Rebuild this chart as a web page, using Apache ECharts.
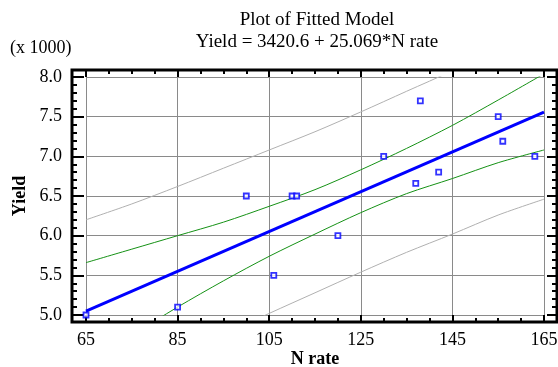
<!DOCTYPE html>
<html>
<head>
<meta charset="utf-8">
<script src="https://cdn.jsdelivr.net/npm/echarts@6/dist/echarts.min.js"></script>
<style>
  html, body { margin: 0; padding: 0; background: #fff; }
  #chart { width: 558px; height: 367px; }
</style>
</head>
<body>
<div id="chart"></div>
<script>
// observed points
var nRate = [65, 85, 100, 106, 110, 111, 120, 130, 137, 138, 142, 155, 156, 163];
var yieldObs = [5000, 5100, 6500, 5500, 6500, 6500, 6000, 7000, 6660, 7700, 6800, 7500, 7190, 7000];

// fitted line ends (Yield = 3420.6 + 25.069*N rate)
var fitN = [65, 165];
var fitY = [5050, 7557];

// bands
var bandN = [65, 75, 85, 95, 105, 115, 125, 135, 145, 155, 165];
var confUpper = [5660, 5830, 6000, 6170, 6370, 6580, 6830, 7100, 7390, 7710, 8040];
var confLower = [4440, 4750, 5100, 5430, 5740, 6020, 6290, 6530, 6720, 6920, 7080];
var predUpper = [6200, 6400, 6620, 6850, 7080, 7310, 7560, 7820, 8080, 8380, 8660];
var predLower = [3900, 4200, 4480, 4750, 5020, 5280, 5540, 5790, 6020, 6260, 6460];

function pairs(xs, ys) {
    var out = [];
    for (var i = 0; i < xs.length; i++) out.push([xs[i], ys[i]]);
    return out;
}

var serif = '"Liberation Serif", "Times New Roman", serif';
var gridColor = '#8a8a8a';

var chart = echarts.init(document.getElementById('chart'));

function tickAxis(extra) {
    var base = {
        gridIndex: 0,
        axisLine: { show: false, onZero: false },
        axisTick: { show: true, inside: true, length: 7, lineStyle: { color: '#000', width: 2 } },
        minorTick: { show: true, length: 4, lineStyle: { color: '#000', width: 2 } },
        axisLabel: { show: false },
        splitLine: { show: false }
    };
    return Object.assign(base, extra);
}

var option = {
    backgroundColor: '#fff',
    animation: false,
    title: [
        {
            text: 'Plot of Fitted Model',
            left: 317, top: 11, padding: 0, textAlign: 'center',
            textStyle: { fontFamily: serif, fontSize: 19, fontWeight: 'normal', color: '#000' }
        },
        {
            text: 'Yield = 3420.6 + 25.069*N rate',
            left: 317, top: 33, padding: 0, textAlign: 'center',
            textStyle: { fontFamily: serif, fontSize: 19, fontWeight: 'normal', color: '#000' }
        }
    ],
    graphic: [
        {
            type: 'text', left: 10, top: 39,
            style: { text: '(x 1000)', font: '18px ' + serif, fill: '#000' }
        }
    ],
    grid: [
        { left: 86, top: 77, width: 458, height: 238, outerBoundsMode: 'none', containLabel: false },
        {
            left: 72, top: 70, width: 485, height: 252, outerBoundsMode: 'none', containLabel: false,
            show: true, borderColor: '#000', borderWidth: 3, backgroundColor: 'transparent'
        }
    ],
    xAxis: [
        tickAxis({
            type: 'value', position: 'bottom', min: 65, max: 165, interval: 20, offset: 7,
            minorTick: { show: true, splitNumber: 4, length: 4, lineStyle: { color: '#000', width: 2 } },
            axisLabel: { show: true, fontFamily: serif, fontSize: 18, color: '#000', margin: 9 },
            splitLine: { show: true, lineStyle: { color: gridColor, width: 1 } },
            name: 'N rate', nameLocation: 'middle', nameGap: 28, nameMoveOverlap: false,
            nameTextStyle: { fontFamily: serif, fontSize: 18, fontWeight: 'bold', color: '#000' }
        }),
        tickAxis({
            type: 'value', position: 'top', min: 65, max: 165, interval: 20, offset: 7,
            minorTick: { show: true, splitNumber: 4, length: 4, lineStyle: { color: '#000', width: 2 } }
        }),
        { type: 'value', gridIndex: 1, min: 0, max: 1, show: false }
    ],
    yAxis: [
        tickAxis({
            type: 'value', position: 'left', min: 5000, max: 8000, interval: 500, offset: 14,
            axisTick: { show: true, inside: true, length: 12, lineStyle: { color: '#000', width: 2 } },
            minorTick: { show: true, splitNumber: 5, length: 5, lineStyle: { color: '#000', width: 2 } },
            axisLabel: {
                show: true, fontFamily: serif, fontSize: 18, color: '#000', margin: 10,
                formatter: function (v) { return (v / 1000).toFixed(1); }
            },
            splitLine: { show: true, lineStyle: { color: gridColor, width: 1 } },
            name: 'Yield', nameLocation: 'middle', nameGap: 43, nameMoveOverlap: false,
            nameTextStyle: { fontFamily: serif, fontSize: 18, fontWeight: 'bold', color: '#000' }
        }),
        tickAxis({
            type: 'value', position: 'right', min: 5000, max: 8000, interval: 500, offset: 13,
            axisTick: { show: true, inside: true, length: 10, lineStyle: { color: '#000', width: 2 } },
            minorTick: { show: true, splitNumber: 5, length: 5, lineStyle: { color: '#000', width: 2 } }
        }),
        { type: 'value', gridIndex: 1, min: 0, max: 1, show: false }
    ],
    series: [
        {
            type: 'line', name: 'pred upper', data: pairs(bandN, predUpper),
            smooth: 0.3, symbol: 'none', clip: true, z: 2,
            lineStyle: { color: '#b0b0b0', width: 1 }
        },
        {
            type: 'line', name: 'pred lower', data: pairs(bandN, predLower),
            smooth: 0.3, symbol: 'none', clip: true, z: 2,
            lineStyle: { color: '#b0b0b0', width: 1 }
        },
        {
            type: 'line', name: 'conf upper', data: pairs(bandN, confUpper),
            smooth: 0.3, symbol: 'none', clip: true, z: 3,
            lineStyle: { color: '#159115', width: 1 }
        },
        {
            type: 'line', name: 'conf lower', data: pairs(bandN, confLower),
            smooth: 0.3, symbol: 'none', clip: true, z: 3,
            lineStyle: { color: '#159115', width: 1 }
        },
        {
            type: 'line', name: 'fit', data: pairs(fitN, fitY),
            symbol: 'none', clip: true, z: 4,
            lineStyle: { color: '#0000ff', width: 3 }
        },
        {
            type: 'scatter', name: 'Yield', data: pairs(nRate, yieldObs),
            symbol: 'rect', symbolSize: 5, z: 5, clip: false,
            itemStyle: { color: '#ffffff', borderColor: '#0000ff', borderWidth: 1.8 }
        }
    ]
};

chart.setOption(option);
</script>
</body>
</html>
